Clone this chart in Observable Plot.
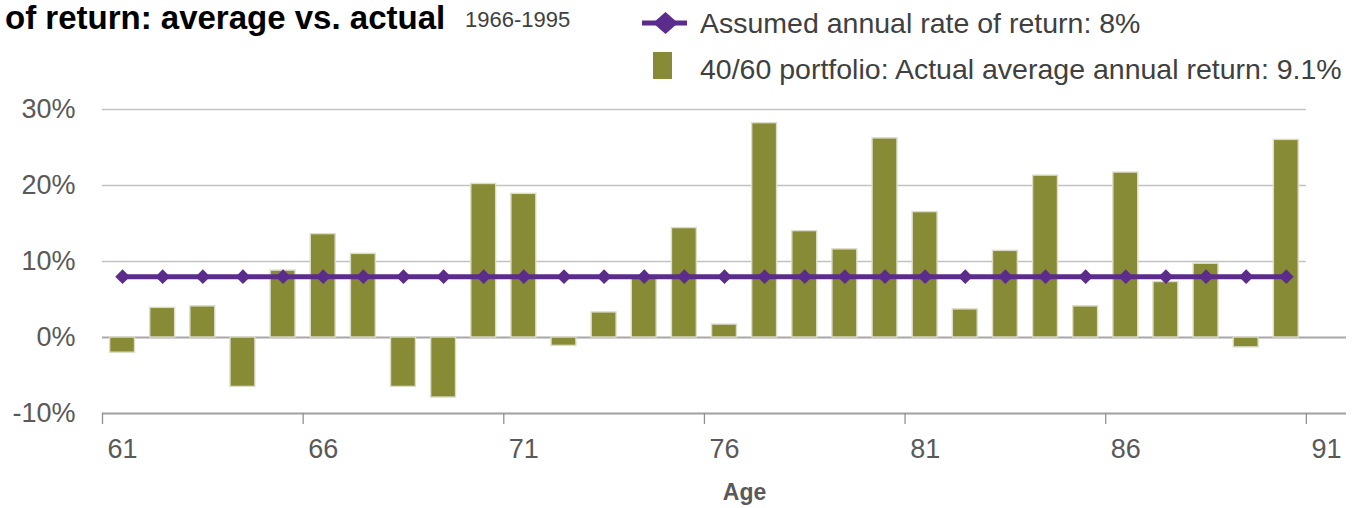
<!DOCTYPE html>
<html>
<head>
<meta charset="utf-8">
<script src="https://cdn.jsdelivr.net/npm/d3@7"></script>
<script src="https://cdn.jsdelivr.net/npm/@observablehq/plot@0.6"></script>
<style>
  html, body { margin: 0; padding: 0; background: #fff; }
  #wrap { position: relative; width: 1366px; height: 508px; overflow: hidden; font-family: "Liberation Sans", Arial, sans-serif; }
  #chart { position: absolute; left: 0; top: 0; }
  #overlay { position: absolute; left: 0; top: 0; }
</style>
</head>
<body>
<div id="wrap">
  <div id="chart"></div>
  <svg id="overlay" width="1366" height="100" font-family="Liberation Sans, Arial, sans-serif">
    <text x="5" y="29" font-size="33" font-weight="bold" fill="#000">of return:  average vs. actual</text>
    <text x="465" y="27" font-size="22" fill="#404040">1966-1995</text>
    <line x1="642" x2="687" y1="23" y2="23" stroke="#5b2c8c" stroke-width="5"></line>
    <path d="M665.5,12 L678,23 L665.5,34 L653,23 Z" fill="#5b2c8c"></path>
    <text x="700" y="33" font-size="28.5" fill="#404040">Assumed annual rate of return: 8%</text>
    <rect x="653" y="52" width="19" height="27" fill="#878b36"></rect>
    <text x="700" y="79" font-size="28.5" fill="#404040">40/60 portfolio: Actual average annual return: 9.1%</text>
  </svg>
</div>
<script>
const ages = [61, 62, 63, 64, 65, 66, 67, 68, 69, 70, 71, 72, 73, 74, 75, 76, 77, 78, 79, 80, 81, 82, 83, 84, 85, 86, 87, 88, 89, 90];
const actualReturns = [-2.0, 3.9, 4.1, -6.5, 8.8, 13.6, 11.0, -6.5, -7.9, 20.2, 18.9, -1.1, 3.3, 8.1, 14.4, 1.7, 28.2, 14.0, 11.6, 26.2, 16.5, 3.7, 11.4, 21.3, 4.1, 21.7, 7.3, 9.7, -1.3, 26.0];
const assumedReturns = [8, 8, 8, 8, 8, 8, 8, 8, 8, 8, 8, 8, 8, 8, 8, 8, 8, 8, 8, 8, 8, 8, 8, 8, 8, 8, 8, 8, 8, 8];
const xTickLabels = [61, 66, 71, 76, 81, 86, 91];
const yTickValues = [-10, 0, 10, 20, 30];
const gridValues = [10, 20, 30];

const rows = ages.map((age, i) => ({age, actual: actualReturns[i], assumed: assumedReturns[i]}));

const olive = "#878b36";
const purple = "#5b2c8c";
const textGray = "#595959";

const chart = Plot.plot({
  width: 1366,
  height: 508,
  marginLeft: 102,
  marginRight: 20,
  marginTop: 109,
  marginBottom: 95,
  x: {type: "linear", domain: [60.5, 91.5], axis: null},
  y: {type: "linear", domain: [-10, 30], axis: null},
  style: {fontFamily: "Liberation Sans, Arial, sans-serif", background: "transparent"},
  marks: [
    Plot.ruleY(gridValues, {x1: 60.5, x2: 90.5, stroke: "#c2c2c2", strokeWidth: 1.6}),
    Plot.ruleY([0], {x1: 60.5, x2: 91.5, stroke: "#a8a8a8", strokeWidth: 2}),
    Plot.ruleY([-10], {x1: 60.5, x2: 91.5, stroke: "#a0a0a0", strokeWidth: 2}),
    Plot.ruleX(xTickLabels, {x: d => d - 0.5, y1: -10, y2: -10, insetBottom: -11, stroke: "#909090", strokeWidth: 1.3}),
    Plot.rect(rows, {x1: d => d.age - 0.31, x2: d => d.age + 0.31, y1: 0, y2: "actual", fill: olive, stroke: "#dcdcc8", strokeWidth: 1.4}),
    Plot.line(rows, {x: "age", y: "assumed", stroke: purple, strokeWidth: 5}),
    Plot.dot(rows, {x: "age", y: "assumed", symbol: "diamond2", r: 6.6, fill: purple, stroke: "none"}),
    Plot.text(yTickValues, {x: 60.5, y: d => d, text: d => d + "%", textAnchor: "end", dx: -27, fontSize: 27, fill: textGray}),
    Plot.text(xTickLabels, {x: d => d, y: -10, text: d => String(d), dy: 36, fontSize: 27, fill: textGray}),
    Plot.text(["Age"], {x: 76.5, y: -10, text: d => d, dy: 79, fontSize: 23, fontWeight: "bold", fill: textGray})
  ]
});
document.getElementById("chart").appendChild(chart);
</script>
</body>
</html>
